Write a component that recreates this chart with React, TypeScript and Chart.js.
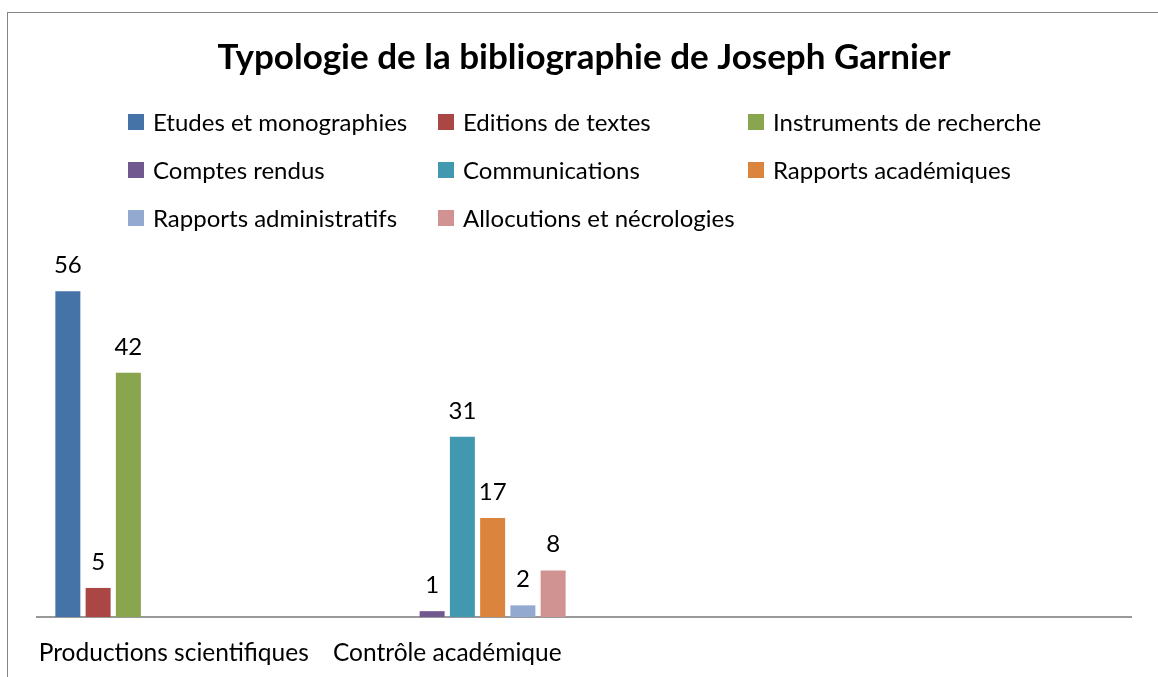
import React, { useEffect, useRef } from "react";
import { Chart, registerables } from "chart.js";

Chart.register(...registerables);

const categories = ["Productions scientifiques", "Contrôle académique", "", ""];
const seriesNames = [
  "Etudes et monographies",
  "Editions de textes",
  "Instruments de recherche",
  "Comptes rendus",
  "Communications",
  "Rapports académiques",
  "Rapports administratifs",
  "Allocutions et nécrologies",
];
const etudes = [56, null, null, null];
const editions = [5, null, null, null];
const instruments = [42, null, null, null];
const comptes = [null, 1, null, null];
const communications = [null, 31, null, null];
const rapportsAcad = [null, 17, null, null];
const rapportsAdmin = [null, 2, null, null];
const allocutions = [null, 8, null, null];
const seriesValues = [etudes, editions, instruments, comptes, communications, rapportsAcad, rapportsAdmin, allocutions];
const colors = ["#4572A7", "#AA4643", "#89A54E", "#71588F", "#4198AF", "#DB843D", "#93A9CF", "#D19392"];

const FONT = "Lato, 'Open Sans', sans-serif";

const legendPlugin = {
  id: "gridLegend",
  afterDraw(chart: any) {
    const ctx = chart.ctx;
    const colX = [128, 438, 748];
    const rowY = [122, 170, 218];
    ctx.save();
    ctx.font = `24px ${FONT}`;
    ctx.textBaseline = "middle";
    ctx.textAlign = "left";
    chart.data.datasets.forEach((ds: any, i: number) => {
      const c = i % 3;
      const r = Math.floor(i / 3);
      const x = colX[c];
      const y = rowY[r];
      ctx.fillStyle = ds.backgroundColor;
      ctx.fillRect(x, y - 8, 16, 16);
      ctx.fillStyle = "#000000";
      ctx.fillText(ds.label, x + 25, y + 1);
    });
    ctx.restore();
  },
};

const valueLabelPlugin = {
  id: "valueLabels",
  afterDatasetsDraw(chart: any) {
    const ctx = chart.ctx;
    ctx.save();
    ctx.font = `24px ${FONT}`;
    ctx.fillStyle = "#000000";
    ctx.textAlign = "center";
    ctx.textBaseline = "alphabetic";
    chart.data.datasets.forEach((ds: any, i: number) => {
      const meta = chart.getDatasetMeta(i);
      meta.data.forEach((el: any, j: number) => {
        const v = ds.data[j];
        if (v === null || v === undefined) return;
        ctx.fillText(String(v), el.x, el.y - 18);
      });
    });
    ctx.restore();
  },
};

export default function App() {
  const ref = useRef<HTMLCanvasElement>(null);
  useEffect(() => {
    if (!ref.current) return;
    const chart = new Chart(ref.current, {
      type: "bar",
      data: {
        labels: categories,
        datasets: seriesNames.map((name, i) => ({
          label: name,
          data: seriesValues[i],
          backgroundColor: colors[i],
          borderWidth: 0,
          categoryPercentage: 0.885,
          barPercentage: 0.826,
        })),
      },
      options: {
        animation: false,
        responsive: false,
        maintainAspectRatio: false,
        events: [],
        layout: { padding: { left: 37, right: 27, top: 0, bottom: 0 } },
        plugins: {
          legend: { display: false },
          tooltip: { enabled: false },
          title: {
            display: true,
            text: "Typologie de la bibliographie de Joseph Garnier",
            color: "#000000",
            font: { family: FONT, size: 35, weight: "bold", lineHeight: 1.2 },
            padding: { top: 37, bottom: 189 },
          },
        },
        scales: {
          x: {
            grid: { display: false },
            border: { display: true, color: "#999999", width: 2 },
            ticks: { color: "#000000", font: { family: FONT, size: 24.5 }, padding: 13, maxRotation: 0, autoSkip: false },
            afterFit: (s: any) => { s.height = 60; },
          },
          y: {
            display: false,
            min: 0,
            max: 60,
          },
        },
      },
      plugins: [legendPlugin, valueLabelPlugin],
    });
    return () => chart.destroy();
  }, []);
  return (
    <div style={{ position: "absolute", left: 0, top: 0, width: 1158, height: 677, background: "#ffffff", overflow: "hidden" }}>
      <div style={{ position: "absolute", left: 7, top: 12, width: 1200, height: 700, borderLeft: "1px solid #868686", borderTop: "1px solid #868686" }} />
      <canvas ref={ref} width={1158} height={677} style={{ position: "absolute", left: 0, top: 0, width: 1158, height: 677 }} />
    </div>
  );
}
